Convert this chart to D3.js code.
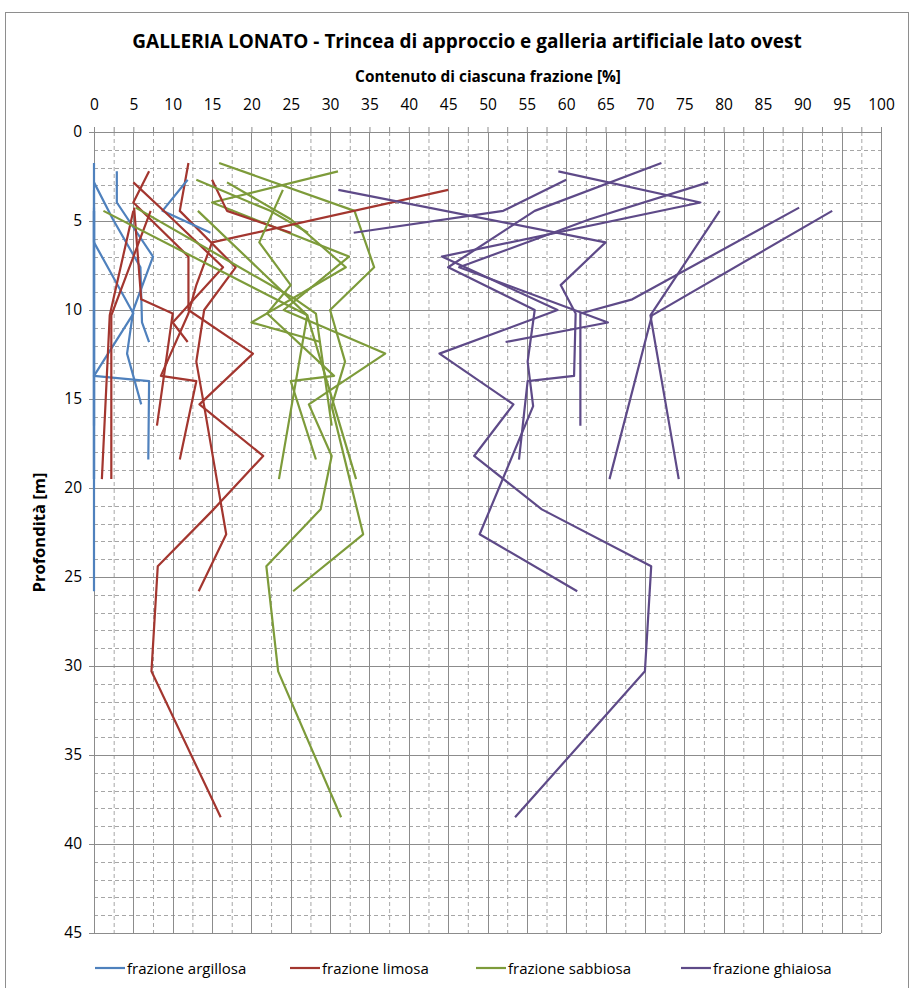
<!DOCTYPE html>
<html>
<head>
<meta charset="utf-8">
<script src="https://cdn.jsdelivr.net/npm/d3@7"></script>
<style>
  body { margin: 0; background: #fff; }
  svg { display: block; }
</style>
</head>
<body>
<svg id="chart" width="913" height="988"></svg>
<script>
// ---- series definitions ----
const fractionNames = ["frazione argillosa", "frazione limosa", "frazione sabbiosa", "frazione ghiaiosa"];
const fractionColors = ["#4F81BD", "#A3362F", "#7D9B3A", "#5E4A88"];
const xTicks = d3.range(0, 101, 5);
const yTicks = d3.range(0, 46, 5);

// sample depths [m] of each borehole
const depths = [
  [1.74, 4.43, 7.6, 10.0, 12.9, 15.4, 22.6, 25.8],
  [2.21, 3.96, 7.0, 10.0, 12.45, 15.3, 18.2, 21.2, 24.4, 30.3, 38.5],
  [2.68, 4.43, 5.66],
  [2.83, 4.9, 7.6, 10.7, 11.8],
  [3.25, 6.2, 8.6, 10.2, 13.7, 14.0, 18.4],
  [4.25, 9.4, 10.2, 16.5],
  [4.43, 10.3, 19.5],
  [4.43, 10.3, 19.5]
];
// content of each fraction [%] at those depths (null = not determined)
const clay = [
  [0, 0, 0, 0, 0, 0, 0, 0],
  [2.9, 2.9, 7.5, 5.0, 4.2, 6.0, null, null, null, null, null],
  [11.9, 8.7, 14.8],
  [0, 2.4, 5.9, 6.1, 7.0],
  [0, 0, 3.0, 5.0, 0, 7.0, 6.9],
  [0, 0, 0, 0],
  [0, 0, 0],
  [0, 0, 0]
];
const silt = [
  [12.0, 10.9, 18.0, 14.0, 13.0, 14.0, 16.8, 13.3],
  [7.0, 5.0, 12.0, 12.0, 20.2, 13.4, 21.5, 15.2, 8.1, 7.3, 16.1],
  [15.0, 16.9, 25.0],
  [5.0, 10.0, 16.4, 10.0, 11.9],
  [45.0, 15.0, 13.0, 12.0, 8.5, 13.0, 10.9],
  [5.1, 6.0, 10.0, 8.0],
  [7.2, 2.2, 2.2],
  [5.0, 2.0, 1.0]
];
const sand = [
  [15.9, 33.1, 35.6, 30.0, 31.9, 30.2, 34.2, 25.3],
  [31.0, 15.0, 32.4, 24.1, 37.0, 27.3, 30.2, 28.8, 21.9, 23.4, 31.4],
  [13.0, 22.4, 27.2],
  [16.9, 25.0, 32.0, 20.0, 28.8],
  [24.0, 21.0, 25.0, 22.0, 30.5, 25.0, 28.2],
  [5.3, 25.6, 28.2, 30.2],
  [13.2, 27.1, 23.5],
  [1.2, 27.1, 33.3]
];
const gravel = [
  [72.1, 56.0, 45.0, 56.0, 55.1, 55.8, 49.0, 61.4],
  [59.0, 77.05, 44.2, 58.9, 43.9, 53.3, 48.3, 56.9, 70.8, 70.0, 53.5],
  [60.0, 52.0, 33.0],
  [78.05, 63.0, 46.4, 65.3, 52.3],
  [31.05, 65.0, 59.3, 61.2, 61.0, 55.1, 54.0],
  [89.6, 68.4, 61.8, 61.8],
  [79.5, 70.7, 74.3],
  [93.8, 70.9, 65.5]
];
const fractions = [clay, silt, sand, gravel];

// ---- layout ----
const svg = d3.select("#chart");
const plot = { left: 94, right: 881, top: 132, bottom: 933 };
const x = d3.scaleLinear().domain([0, 100]).range([plot.left, plot.right]);
const y = d3.scaleLinear().domain([0, 45]).range([plot.top, plot.bottom]);
const FONT = "'Open Sans', 'DejaVu Sans', sans-serif";

// chart border
svg.append("rect")
  .attr("x", 5.5).attr("y", 12.5).attr("width", 903).attr("height", 990)
  .attr("fill", "none").attr("stroke", "#8e8e8e").attr("stroke-width", 1);

// minor grid
const grid = svg.append("g");
grid.selectAll("line.vmin").data(d3.range(2.5, 100, 5)).join("line")
  .attr("x1", d => x(d) + 0.5).attr("x2", d => x(d) + 0.5)
  .attr("y1", plot.top).attr("y2", plot.bottom)
  .attr("stroke", "#a6a6a6").attr("stroke-dasharray", "4,3");
grid.selectAll("line.hmin").data(d3.range(1, 45).filter(d => d % 5 !== 0)).join("line")
  .attr("y1", d => Math.round(y(d)) + 0.5).attr("y2", d => Math.round(y(d)) + 0.5)
  .attr("x1", plot.left).attr("x2", plot.right)
  .attr("stroke", "#a6a6a6").attr("stroke-dasharray", "4,3");

// major grid
grid.selectAll("line.vmaj").data(xTicks).join("line")
  .attr("x1", d => Math.round(x(d)) + 0.5).attr("x2", d => Math.round(x(d)) + 0.5)
  .attr("y1", plot.top).attr("y2", plot.bottom)
  .attr("stroke", "#8c8c8c");
grid.selectAll("line.hmaj").data(yTicks).join("line")
  .attr("y1", d => Math.round(y(d)) + 0.5).attr("y2", d => Math.round(y(d)) + 0.5)
  .attr("x1", plot.left).attr("x2", plot.right)
  .attr("stroke", "#8c8c8c");

// top axis
const xAxis = d3.axisTop(x).tickValues(xTicks).tickSize(5).tickPadding(17).tickFormat(d3.format("d"));
const gx = svg.append("g").attr("transform", `translate(0,${plot.top})`).call(xAxis);
gx.select(".domain").attr("stroke", "#8c8c8c");
gx.selectAll(".tick line").attr("stroke", "#8c8c8c");
gx.selectAll("text").attr("font-family", FONT).attr("font-size", 15.5).attr("fill", "#000");
const xMinor = d3.axisTop(x).tickValues(d3.range(2.5, 100, 5)).tickSize(5).tickFormat("");
const gxm = svg.append("g").attr("transform", `translate(0,${plot.top})`).call(xMinor);
gxm.select(".domain").remove();
gxm.selectAll(".tick line").attr("stroke", "#8c8c8c");

// left axis
const yAxis = d3.axisLeft(y).tickValues(yTicks).tickSize(5).tickPadding(7).tickFormat(d3.format("d"));
const gy = svg.append("g").attr("transform", `translate(${plot.left},0)`).call(yAxis);
gy.select(".domain").attr("stroke", "#8c8c8c");
gy.selectAll(".tick line").attr("stroke", "#8c8c8c");
gy.selectAll("text").attr("font-family", FONT).attr("font-size", 15.5).attr("fill", "#000");

// data lines
const line = d3.line().defined(d => d[0] != null).x(d => x(d[0])).y(d => y(d[1]));
const lines = svg.append("g").attr("fill", "none").attr("stroke-width", 2.2).attr("stroke-linejoin", "round");
depths.forEach((dep, b) => {
  fractions.forEach((fr, f) => {
    const pts = fr[b].map((v, i) => [v, dep[i]]);
    lines.append("path").attr("d", line(pts)).attr("stroke", fractionColors[f]);
  });
});

// titles
function fitText(sel, width) {
  const w = sel.node().getComputedTextLength();
  const fs = parseFloat(sel.attr("font-size"));
  sel.attr("font-size", fs * width / w);
}
const title = svg.append("text")
  .attr("x", 467).attr("y", 48).attr("text-anchor", "middle")
  .attr("font-family", FONT).attr("font-weight", "bold").attr("font-size", 18)
  .text("GALLERIA LONATO - Trincea di approccio e galleria artificiale lato ovest");
fitText(title, 670);
const xt = svg.append("text")
  .attr("x", 488).attr("y", 82).attr("text-anchor", "middle")
  .attr("font-family", FONT).attr("font-weight", "bold").attr("font-size", 14)
  .text("Contenuto di ciascuna frazione [%]");
fitText(xt, 266);
const yt = svg.append("text")
  .attr("transform", `translate(45,${(plot.top + plot.bottom) / 2}) rotate(-90)`)
  .attr("text-anchor", "middle")
  .attr("font-family", FONT).attr("font-weight", "bold").attr("font-size", 14)
  .text("Profondità [m]");
fitText(yt, 120);

// legend
const legendX = [95, 290, 476, 681];
const lg = svg.append("g");
fractionNames.forEach((n, i) => {
  lg.append("line").attr("x1", legendX[i]).attr("x2", legendX[i] + 30)
    .attr("y1", 968).attr("y2", 968).attr("stroke", fractionColors[i]).attr("stroke-width", 2.2);
  lg.append("text").attr("x", legendX[i] + 32).attr("y", 974)
    .attr("font-family", FONT).attr("font-size", 15).text(n);
});
</script>
</body>
</html>
